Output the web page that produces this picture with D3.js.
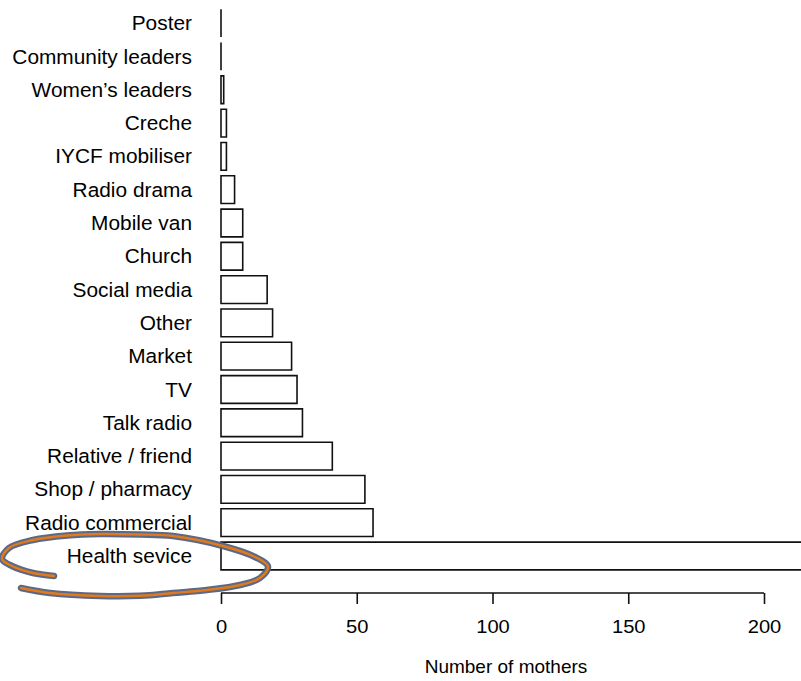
<!DOCTYPE html>
<html>
<head>
<meta charset="utf-8">
<script src="https://cdn.jsdelivr.net/npm/d3@7"></script>
<style>
  html, body { margin: 0; padding: 0; background: #fff; }
  svg { display: block; }
  text { font-family: "Liberation Sans", Arial, Helvetica, sans-serif; fill: #000; }
</style>
</head>
<body>
<script>
// Data (top to bottom)
const categories = ["Poster", "Community leaders", "Women\u2019s leaders", "Creche", "IYCF mobiliser",
  "Radio drama", "Mobile van", "Church", "Social media", "Other", "Market", "TV", "Talk radio",
  "Relative / friend", "Shop / pharmacy", "Radio commercial", "Health sevice"];
const values = [0, 0, 1, 2, 2, 5, 8, 8, 17, 19, 26, 28, 30, 41, 53, 56, 235];
const xTicks = [0, 50, 100, 150, 200];
const xTitle = "Number of mothers";

const W = 801, H = 681;
const fontSize = 19;

const svg = d3.select("body").append("svg").attr("width", W).attr("height", H);

const x = d3.scaleLinear().domain([0, 200]).range([221, 764]);
const y = d3.scaleBand().domain(categories).range([9.3, 569.85]).paddingInner(1/6).paddingOuter(0);

// Bars (drawn as paths so zero-height bars still show their outline, like R's barplot)
svg.append("g").selectAll("path").data(categories).join("path")
  .attr("d", (d, i) => {
    const x0 = x(0), w = x(values[i]) - x(0), y0 = y(d), h = y.bandwidth();
    return `M${x0},${y0}h${w}v${h}h${-w}Z`;
  })
  .attr("fill", "#fff")
  .attr("stroke", "#111")
  .attr("stroke-width", 1.6);

// Category labels
svg.append("g").selectAll("text").data(categories).join("text")
  .attr("transform", (d) => `translate(192,${y(d) + y.bandwidth() / 2}) scale(1.07,1)`)
  .attr("dy", "0.36em")
  .attr("text-anchor", "end")
  .style("font-size", "19.5px")
  .text((d) => d);

// X axis
const axisY = 593;
const axis = svg.append("g").attr("transform", `translate(0,${axisY})`)
  .call(d3.axisBottom(x).tickValues(xTicks).tickSize(11).tickPadding(16).tickFormat(d3.format("d")));
axis.select(".domain").attr("stroke", "#111").attr("stroke-width", 1.6).attr("d", `M${x(0)},0H${x(200)}`);
axis.selectAll(".tick line").attr("stroke", "#111").attr("stroke-width", 1.6);
axis.selectAll(".tick text")
  .style("font-size", fontSize + "px")
  .style("font-family", "Liberation Sans, Arial, sans-serif")
  .attr("fill", "#000")
  .attr("transform", "scale(1.06,1)");

svg.append("text")
  .attr("x", 506)
  .attr("y", 673)
  .attr("text-anchor", "middle")
  .style("font-size", fontSize + "px")
  .text(xTitle);

// Hand-drawn annotation loop around "Health sevice"
const loopPts = [[54,576],[33,573],[12,566],[2,559],[9,548],[33,540],[67,535.5],[100,534],[140,534.5],
  [173,536],[223,546],[255,557],[268,566.5],[260,578],[240,585],[207,590],[173,593],[140,595.8],
  [100,596],[50,593],[21,588]];
const loop = d3.line().curve(d3.curveCatmullRom.alpha(0.5));
svg.append("path").attr("d", loop(loopPts)).attr("fill", "none")
  .attr("stroke", "#536180").attr("stroke-width", 6.5).attr("stroke-linecap", "round").attr("opacity", 0.95);
svg.append("path").attr("d", loop(loopPts)).attr("fill", "none")
  .attr("stroke", "#e07a1c").attr("stroke-width", 2.4).attr("stroke-linecap", "round");
</script>
</body>
</html>
